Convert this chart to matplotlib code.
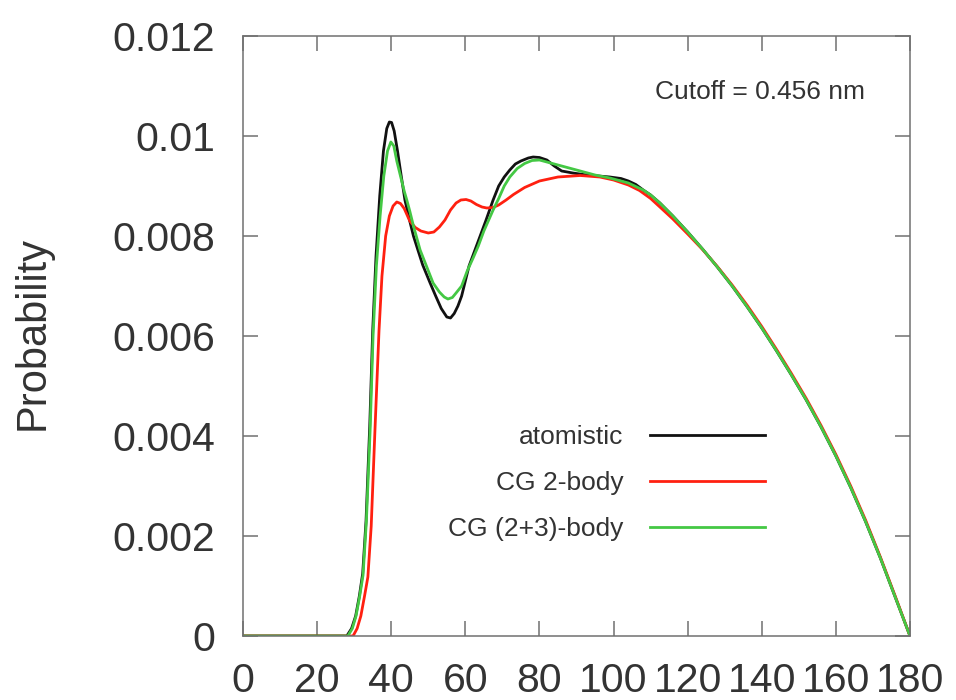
import numpy as np
import matplotlib
matplotlib.use("Agg")
import matplotlib.pyplot as plt

plt.rcParams["font.family"] = ["Liberation Sans", "DejaVu Sans"]

# angle (deg) / probability
x_atom = [0, 28.0, 29.3, 30.4, 31.4, 32.3, 33.2, 34.2, 35.0, 35.9, 36.9, 37.9,
          38.8, 39.5, 40.1, 40.8, 41.7, 42.7, 43.7, 45, 46, 47.2, 48.5, 50.5,
          52, 53.5, 55, 56, 57, 58, 59, 60, 61, 62.6, 64, 65.5, 67.5, 69, 70.5,
          72, 73.5, 75, 77, 78.3, 80, 82, 84, 86, 89, 92.8, 96, 99, 102, 104,
          106, 108, 110, 112.5, 116, 120, 124, 128, 132, 136, 140, 144, 148,
          152, 156, 160, 164, 168, 172, 176, 180]
y_atom = [0, 0, 0.00015, 0.0004, 0.0008, 0.00125, 0.0023, 0.0042, 0.0061,
          0.0076, 0.0088, 0.0097, 0.01015, 0.01028, 0.01027, 0.0101, 0.0097,
          0.0092, 0.00872, 0.0083, 0.0080, 0.00772, 0.00742, 0.00706, 0.0068,
          0.00655, 0.00638, 0.00636, 0.00645, 0.0066, 0.0068, 0.0071, 0.0074,
          0.00772, 0.0080, 0.0083, 0.00872, 0.0090, 0.00918, 0.00932, 0.00944,
          0.0095, 0.00956, 0.00958, 0.00957, 0.00952, 0.0094, 0.0093, 0.00926,
          0.00922, 0.0092, 0.00918, 0.00915, 0.0091, 0.00903, 0.00892, 0.00882,
          0.00866, 0.0084, 0.00808, 0.00774, 0.00738, 0.007, 0.00659, 0.00616,
          0.0057, 0.00522, 0.00472, 0.00418, 0.0036, 0.00297, 0.00229, 0.00156,
          0.00078, 0.0]

x_cg2 = [0, 29.7, 30.8, 31.8, 32.8, 33.7, 34.6, 35.6, 36.7, 37.5, 38.5, 39.5,
         40.5, 41.5, 42.5, 43.5, 45, 46.5, 48, 50, 51.5, 53, 54.5, 56, 57.5,
         58.8, 60.2, 61.5, 63, 64.5, 65.8, 67.5, 69, 71, 73, 76, 80, 85, 91,
         96.3, 100, 104, 107, 110, 112.5, 116, 120, 124, 128, 132, 136, 140,
         144, 148, 152, 156, 160, 164, 168, 172, 176, 180]
y_cg2 = [0, 0, 0.00015, 0.0004, 0.0008, 0.00118, 0.0022, 0.0041, 0.0061,
         0.0072, 0.0080, 0.0084, 0.0086, 0.00868, 0.00865, 0.00855, 0.0083,
         0.00817, 0.0081, 0.00806, 0.00808, 0.00818, 0.00832, 0.00852, 0.00866,
         0.00872, 0.00873, 0.0087, 0.00863, 0.00858, 0.00856, 0.00857, 0.00862,
         0.00872, 0.00883, 0.00897, 0.0091, 0.00918, 0.00921, 0.00918, 0.00912,
         0.00902, 0.00891, 0.00875, 0.00858, 0.00834, 0.00804, 0.00773,
         0.00739, 0.00702, 0.00662, 0.00619, 0.00573, 0.00525, 0.00475,
         0.00421, 0.00363, 0.003, 0.00232, 0.00158, 0.0008, 0.0]

x_cg23 = [0, 28.3, 29.5, 30.5, 31.5, 32.4, 33.3, 34.3, 35.1, 36, 37, 38, 39,
          39.9, 40.7, 41.5, 42.5, 43.5, 44.2, 45, 46, 47.8, 49.5, 51.3, 53,
          54.3, 55.3, 56.5, 57.5, 59, 60.5, 62.1, 63.5, 65, 67.5, 69, 70.5, 72,
          74, 76, 78, 80, 83, 86, 90, 95, 99, 104, 108, 110, 112.5, 116, 120,
          124, 128, 132, 136, 140, 144, 148, 152, 156, 160, 164, 168, 172, 176,
          180]
y_cg23 = [0, 0, 0.00015, 0.0004, 0.0008, 0.00122, 0.0023, 0.0041, 0.006,
          0.0074, 0.0084, 0.0092, 0.0097, 0.00988, 0.0098, 0.0095, 0.0092,
          0.0089, 0.00872, 0.0085, 0.0082, 0.00772, 0.0074, 0.00706, 0.00688,
          0.00678, 0.00674, 0.00677, 0.00686, 0.0070, 0.0073, 0.00756, 0.0078,
          0.0081, 0.00852, 0.00875, 0.009, 0.00918, 0.00935, 0.00945, 0.00951,
          0.00952, 0.00946, 0.0094, 0.00932, 0.00922, 0.00916, 0.00906, 0.00892,
          0.00882, 0.00866, 0.0084, 0.00808, 0.00774, 0.00738, 0.007, 0.00659,
          0.00616, 0.0057, 0.00522, 0.00472, 0.00418, 0.0036, 0.00297, 0.00229,
          0.00156, 0.00078, 0.0]

xticks = [0, 20, 40, 60, 80, 100, 120, 140, 160, 180]
yticks = [0, 0.002, 0.004, 0.006, 0.008, 0.01, 0.012]
ytick_labels = ["0", "0.002", "0.004", "0.006", "0.008", "0.01", "0.012"]

fig = plt.figure(figsize=(9.56, 7.0), dpi=100)
ax = fig.add_axes([243/956, 64/700, 667/956, 600/700])

ax.plot(x_atom, y_atom, color="#111111", lw=2.0, label="atomistic")
ax.plot(x_cg2, y_cg2, color="#ff2010", lw=2.0, label="CG 2-body")
ax.plot(x_cg23, y_cg23, color="#44c844", lw=2.0, label="CG (2+3)-body")

ax.set_xlim(0, 180)
ax.set_ylim(0, 0.012)
ax.set_xticks(xticks)
ax.set_yticks(yticks)
ax.set_yticklabels(ytick_labels)

for s in ax.spines.values():
    s.set_color("#707070")
    s.set_linewidth(1.1)
ax.tick_params(direction="in", length=11, width=1.1, color="#707070",
               labelsize=29.5, labelcolor="#333333",
               top=True, right=True)
ax.tick_params(axis="x", pad=19)
ax.tick_params(axis="y", pad=20)

ax.set_ylabel("Probability", fontsize=30, color="#333333")
ax.yaxis.set_label_coords(-0.286, 0.505)

ax.text(139.4, 0.01088, "Cutoff = 0.456 nm", fontsize=19, color="#333333",
        ha="center", va="center")

leg = ax.legend(loc="upper right", bbox_to_anchor=(0.7826, 0.352),
                frameon=False, markerfirst=False, fontsize=19,
                handlelength=4.36, handletextpad=1.0, labelspacing=0.84,
                borderpad=0, borderaxespad=0)
for t in leg.get_texts():
    t.set_color("#333333")

fig.savefig("out.png", dpi=100)
